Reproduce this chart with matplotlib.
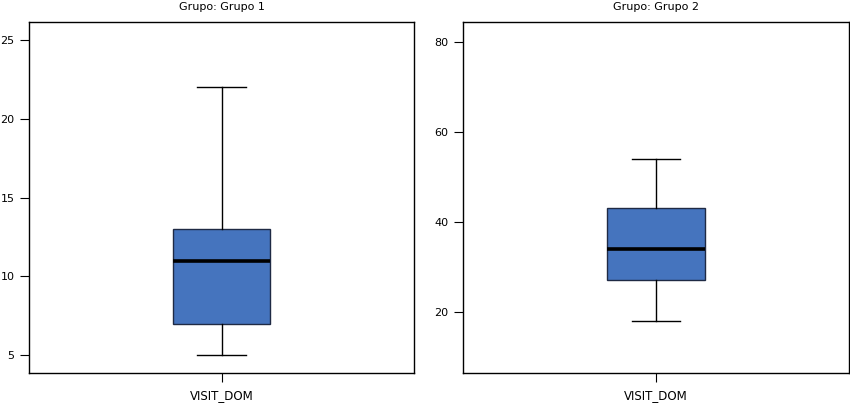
import matplotlib
matplotlib.use("Agg")
import matplotlib.pyplot as plt

titles = ["Grupo: Grupo 1", "Grupo: Grupo 2"]
category = ["VISIT_DOM"]
# box stats: whislo, q1, med, q3, whishi
g1 = dict(whislo=5, q1=7, med=11, q3=13, whishi=22)
g2 = dict(whislo=18, q1=27, med=34, q3=43, whishi=54)
stats = [g1, g2]
yticks = [[5, 10, 15, 20, 25], [20, 40, 60, 80]]
ylims = [(3.86, 26.14), (6.4, 84.4)]

plt.rcParams['font.family'] = ['DejaVu Sans']
fig = plt.figure(figsize=(8.5, 4.04), dpi=100)
axes_pos = [[29/850, 1-373/404, (414-29)/850, (373-22)/404],
            [463/850, 1-373/404, (849-463)/850, (373-22)/404]]

for i in range(2):
    ax = fig.add_axes(axes_pos[i])
    s = dict(stats[i])
    s['label'] = category[0]
    ax.bxp([s], positions=[1], widths=0.252, showfliers=False, patch_artist=True,
           boxprops=dict(facecolor='#4574BE', edgecolor='#1F2A44', linewidth=1),
           medianprops=dict(color='black', linewidth=2.6),
           whiskerprops=dict(color='black', linewidth=1),
           capprops=dict(color='black', linewidth=1),
           capwidths=0.125)
    ax.set_xlim(0.5, 1.5)
    ax.set_ylim(*ylims[i])
    ax.set_yticks(yticks[i])
    ax.set_xticks([1])
    ax.set_xticklabels(category)
    ax.tick_params(axis='y', direction='out', length=6.5, width=0.8, labelsize=8, pad=4, colors='black')
    ax.tick_params(axis='x', direction='out', length=6.5, width=0.8, labelsize=8.5, pad=5, colors='black')
    for sp in ax.spines.values():
        sp.set_linewidth(1)
        sp.set_color('black')
    ax.set_title(titles[i], fontsize=8, pad=8.5)

fig.savefig("out.png", dpi=100)
